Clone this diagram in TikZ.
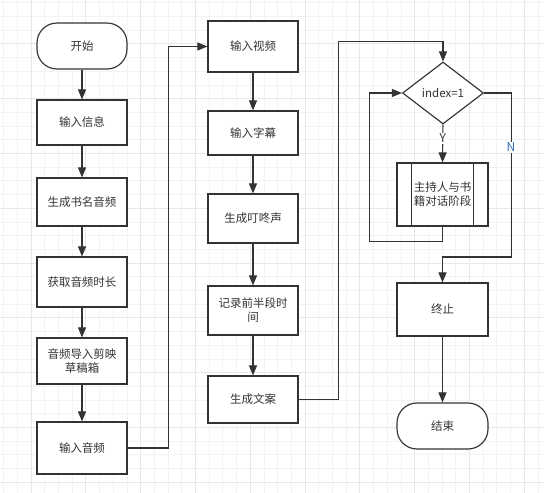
\documentclass[tikz,border=0pt]{standalone}
\usepackage{fontspec}
\setmainfont{Noto Sans CJK SC}
\usetikzlibrary{arrows.meta,shapes.geometric,calc}
\definecolor{ink}{RGB}{51,51,51}
\definecolor{gridminor}{RGB}{243,243,243}
\definecolor{gridmajor}{RGB}{232,232,232}
\definecolor{nblue}{RGB}{45,110,185}
\tikzset{
  box/.style={draw=ink, line width=1.15pt, fill=white, text=ink, rectangle, minimum width=90pt, inner sep=2pt, align=center, font=\fontsize{11.5}{14}\selectfont},
  term/.style={box, rounded corners=20pt},
  dec/.style={draw=ink, line width=1.15pt, fill=white, text=ink, diamond, aspect=1.3, minimum width=81pt, minimum height=62pt, inner sep=0pt, font=\fontsize{11.5}{14}\selectfont},
  arr/.style={draw=ink, line width=1.05pt, -{Triangle[length=10pt,width=8pt]}},
  lbl/.style={fill=white, text=ink, inner sep=1pt, font=\fontsize{12}{14}\selectfont},
}
\begin{document}
\begin{tikzpicture}[x=1pt,y=-1pt]
\useasboundingbox (0,0) rectangle (544,493);
\fill[white] (0,0) rectangle (544,493);
% grid
\foreach \i in {0,...,39} \draw[gridminor, line width=0.8pt] ({3.6+13.7*\i},0) -- ++(0,493);
\foreach \i in {0,...,35} \draw[gridminor, line width=0.8pt] (0,{2.7+13.7*\i}) -- ++(544,0);
\foreach \i in {0,...,9} \draw[gridmajor, line width=0.9pt] ({31+54.8*\i},0) -- ++(0,493);
\foreach \i in {0,...,8} \draw[gridmajor, line width=0.9pt] (0,{43.8+54.8*\i}) -- ++(544,0);
% column 1
\node[term, minimum height=46pt] (start) at (82,46) {开始};
\node[box, minimum height=45pt] (n1) at (82,122.5) {输入信息};
\node[box, minimum height=48pt] (n2) at (82,202) {生成书名音频};
\node[box, minimum height=50pt] (n3) at (82,282) {获取音频时长};
\node[box, minimum height=46pt] (n4) at (82,361) {音频导入剪映\\草稿箱};
\node[box, minimum height=52pt] (n5) at (82,448) {输入音频};
% column 2
\node[box, minimum height=51pt] (v1) at (253,46.5) {输入视频};
\node[box, minimum height=44pt] (v2) at (253,133) {输入字幕};
\node[box, minimum height=49pt] (v3) at (253,218.5) {生成叮咚声};
\node[box, minimum height=49pt] (v4) at (253,310.5) {记录前半段时\\间};
\node[box, minimum height=47pt] (v5) at (253,399.5) {生成文案};
% column 3
\node[dec] (d) at (443,93) {index=1};
\node[box, minimum width=91pt, minimum height=63pt] (sub) at (442.5,194.5) {主持人与书\\籍对话阶段};
\draw[ink, line width=1.15pt] ($(sub.north west)+(15,0)$) -- ($(sub.south west)+(15,0)$);
\draw[ink, line width=1.15pt] ($(sub.north east)+(-15,0)$) -- ($(sub.south east)+(-15,0)$);
\node[box, minimum width=91pt, minimum height=53pt] (stop) at (442.5,309.5) {终止};
\node[term, minimum width=91pt, minimum height=46pt] (end) at (442.5,426) {结束};
% connectors
\draw[arr] (start) -- (n1);
\draw[arr] (n1) -- (n2);
\draw[arr] (n2) -- (n3);
\draw[arr] (n3) -- (n4);
\draw[arr] (n4) -- (n5);
\draw[arr] (n5.east) -- ++(41,0) |- (v1.west);
\draw[arr] (v1) -- (v2);
\draw[arr] (v2) -- (v3);
\draw[arr] (v3) -- (v4);
\draw[arr] (v4) -- (v5);
\draw[arr] (v5.east) -- ++(40,0) |- ($(d.north)+(0,-20)$) -- (d.north);
\draw[arr] (d.south) -- node[lbl, pos=0.36] {Y} (sub.north);
\draw[arr] (sub.south) -- ++(0,15) -| ($(d.west)+(-32,0)$) -- (d.west);
\draw[arr] (d.east) -- ++(27,0) -- node[lbl, pos=0.33, text=nblue] {N} ++(0,164) -| (stop.north);
\draw[arr] (stop) -- (end);
\end{tikzpicture}
\end{document}
